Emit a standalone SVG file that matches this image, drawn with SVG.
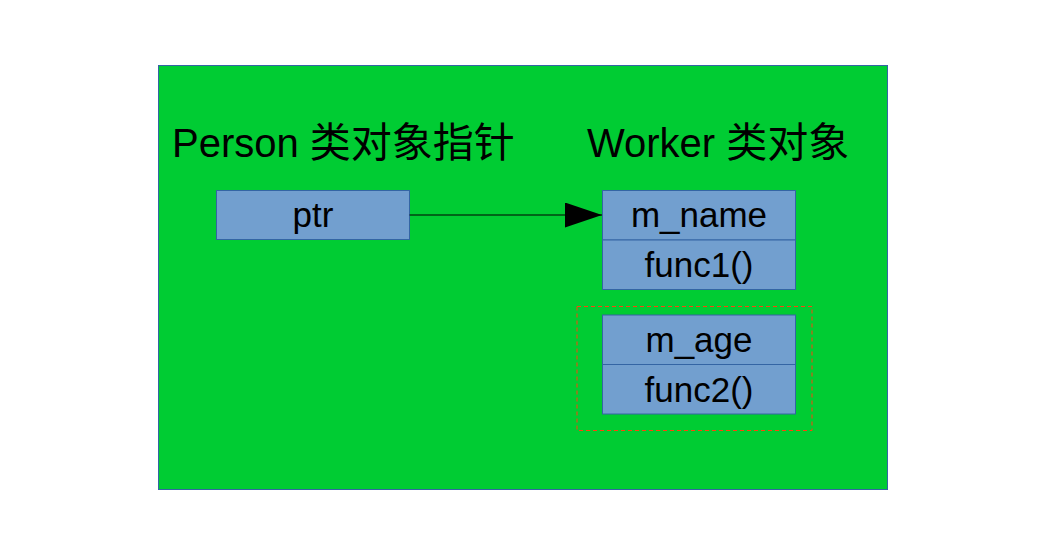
<svg xmlns="http://www.w3.org/2000/svg" width="1040" height="554" viewBox="0 0 1040 554">
<style>
.bg{fill:#00cc33;stroke:#3465a4;stroke-width:1}
.box{fill:#729fcf;stroke:#3465a4;stroke-width:1}
.title{font-family:"Liberation Sans","Noto Sans CJK SC",sans-serif;font-size:40px;fill:#000}
.cjk{font-size:41px}
.lbl{font-family:"Liberation Sans",sans-serif;font-size:35px;fill:#000;text-anchor:middle}
.dash{fill:none;stroke:#ff420e;stroke-width:1;stroke-dasharray:4 3}
</style>
<defs>
<marker id="arr" markerUnits="userSpaceOnUse" markerWidth="38" markerHeight="26" refX="37" refY="12.5" orient="auto">
<path d="M0,0 L37,12.5 L0,25 Z" fill="#000"/>
</marker>
</defs>
<rect class="bg" x="158.5" y="65.5" width="729" height="424"/>
<text class="title" x="172" y="157">Person <tspan class="cjk">类对象指针</tspan></text>
<text class="title" x="587" y="157">Worker <tspan class="cjk">类对象</tspan></text>
<g id="ptr">
<rect class="box" x="216.5" y="190.5" width="193" height="49"/>
<text class="lbl" x="313" y="227">ptr</text>
</g>
<g id="worker_name">
<rect class="box" x="602.5" y="190.5" width="193" height="49.5"/>
<text class="lbl" x="699" y="227">m_name</text>
</g>
<g id="worker_func1">
<rect class="box" x="602.5" y="240" width="193" height="49.5"/>
<text class="lbl" x="699" y="277">func1()</text>
</g>
<g id="hidden_group">
<rect class="dash" x="577" y="306.5" width="235" height="124"/>
</g>
<g id="worker_age">
<rect class="box" x="602.5" y="315" width="193" height="49.5"/>
<text class="lbl" x="699" y="352">m_age</text>
</g>
<g id="worker_func2">
<rect class="box" x="602.5" y="364.5" width="193" height="49.5"/>
<text class="lbl" x="699" y="402">func2()</text>
</g>
<g id="connectors">
<line x1="409.5" y1="215" x2="602" y2="215" stroke="#000" stroke-width="1.2" marker-end="url(#arr)"/>
</g>
</svg>
